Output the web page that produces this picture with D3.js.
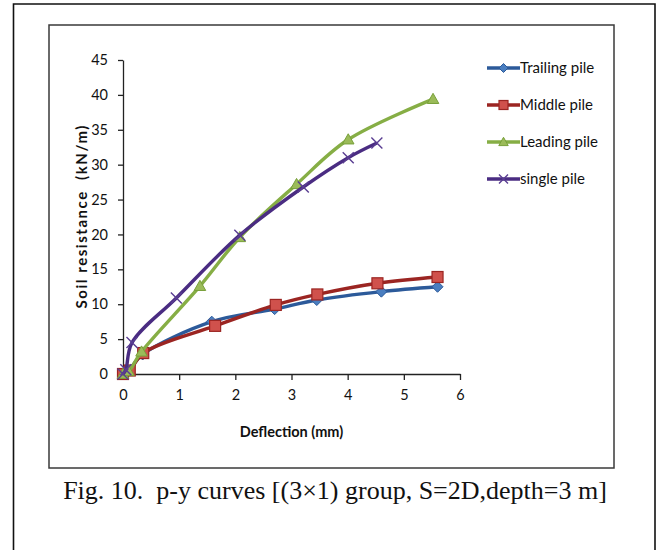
<!DOCTYPE html>
<html><head><meta charset="utf-8">
<script src="https://cdn.jsdelivr.net/npm/d3@7"></script>
<style>body{margin:0;background:#fff}svg{display:block}</style>
</head><body>
<svg id="c" width="662" height="550"></svg>
<script>
// ---- data ----
const seriesNames = ["Trailing pile", "Middle pile", "Leading pile", "single pile"];
const trailingX = [0, 0.10, 0.35, 1.58, 2.70, 3.45, 4.60, 5.60];
const trailingY = [0, 0.5, 2.8, 7.5, 9.3, 10.6, 11.8, 12.5];
const middleX = [0, 0.12, 0.36, 1.64, 2.72, 3.46, 4.53, 5.60];
const middleY = [0, 0.5, 3.0, 6.9, 9.9, 11.4, 13.0, 13.9];
const leadingX = [0, 0.10, 0.33, 1.37, 2.08, 3.09, 4.01, 5.52];
const leadingY = [0, 0.4, 3.2, 12.6, 19.6, 27.2, 33.6, 39.4];
const singleX = [0, 0.05, 0.16, 0.95, 2.08, 3.21, 4.01, 4.52];
const singleY = [0, 0.6, 4.5, 10.9, 19.9, 26.8, 31.0, 33.1];
const xTicks = [0, 1, 2, 3, 4, 5, 6];
const yTicks = [0, 5, 10, 15, 20, 25, 30, 35, 40, 45];
const xTitle = "Deflection (mm)";
const yTitle = "Soil resistance  (kN/m)";
const caption = "Fig. 10.  p-y curves [(3×1) group, S=2D,depth=3 m]";

const svg = d3.select("#c");
const x = d3.scaleLinear().domain([0, 6]).range([123, 460]);
const y = d3.scaleLinear().domain([0, 45]).range([374, 60]);

// outer frame
svg.append("path").attr("d", "M13.5,560 V4 H655 V560")
  .attr("fill", "none").attr("stroke", "#111").attr("stroke-width", 1.6);
// chart area box
svg.append("rect").attr("x", 49).attr("y", 25).attr("width", 565).attr("height", 443)
  .attr("fill", "#fff").attr("stroke", "#3a3a3a").attr("stroke-width", 1.5);

const tickFont = "Lato, 'Open Sans', sans-serif";

// axes
const gx = svg.append("g").attr("transform", `translate(0,${y(0)})`)
  .call(d3.axisBottom(x).tickValues(xTicks).tickFormat(d3.format("d")).tickSize(6).tickSizeOuter(0).tickPadding(10));
const gy = svg.append("g").attr("transform", `translate(${x(0)},0)`)
  .call(d3.axisLeft(y).tickValues(yTicks).tickFormat(d3.format("d")).tickSize(5).tickSizeOuter(0).tickPadding(10));
[gx, gy].forEach(g => {
  g.select(".domain").attr("stroke", "#222").attr("stroke-width", 1.3);
  g.selectAll(".tick line").attr("stroke", "#222").attr("stroke-width", 1.3);
  g.selectAll("text").attr("font-family", tickFont).attr("font-size", 14.5).attr("fill", "#111");
});

// titles
svg.append("text").attr("x", (x(0) + x(6)) / 2).attr("y", 437).attr("text-anchor", "middle")
  .attr("font-family", tickFont).attr("font-weight", "bold").attr("font-size", 14.5).attr("fill", "#111").text(xTitle);
svg.append("text").attr("transform", `translate(87,${(y(0) + y(45)) / 2}) rotate(-90)`).attr("text-anchor", "middle")
  .attr("font-family", tickFont).attr("font-weight", "bold").attr("font-size", 15).attr("fill", "#111")
  .style("white-space", "pre").attr("textLength", 183).attr("lengthAdjust", "spacing").text(yTitle);

// series
const series = [
  {name: seriesNames[0], xs: trailingX, ys: trailingY, line: "#2C5A9A", fill: "#4A7EC0", stroke: "#2C5A9A", shape: "diamond"},
  {name: seriesNames[1], xs: middleX, ys: middleY, line: "#9B2522", fill: "#D0514C", stroke: "#9B2522", shape: "square"},
  {name: seriesNames[2], xs: leadingX, ys: leadingY, line: "#86AE45", fill: "#9BBB59", stroke: "#78A03A", shape: "triangle"},
  {name: seriesNames[3], xs: singleX, ys: singleY, line: "#4A2C82", fill: "none", stroke: "#5A3E92", shape: "x"}
];

function marker(g, shape, s, fill, stroke) {
  if (shape === "diamond") {
    g.append("path").attr("d", `M0,${-s} L${s},0 L0,${s} L${-s},0Z`).attr("fill", fill).attr("stroke", stroke).attr("stroke-width", 1);
  } else if (shape === "square") {
    g.append("rect").attr("x", -s).attr("y", -s).attr("width", 2 * s).attr("height", 2 * s).attr("fill", fill).attr("stroke", stroke).attr("stroke-width", 1.2);
  } else if (shape === "triangle") {
    g.append("path").attr("d", `M0,${-s * 1.05} L${s * 1.05},${s * 0.8} L${-s * 1.05},${s * 0.8}Z`).attr("fill", fill).attr("stroke", stroke).attr("stroke-width", 1);
  } else {
    g.append("path").attr("d", `M${-s},${-s} L${s},${s} M${-s},${s} L${s},${-s}`).attr("stroke", stroke).attr("stroke-width", 1.4).attr("fill", "none");
  }
}

const line = d3.line().x(d => x(d[0])).y(d => y(d[1])).curve(d3.curveCatmullRom.alpha(0.5));
series.forEach(s => {
  const pts = s.xs.map((v, i) => [v, s.ys[i]]);
  svg.append("path").datum(pts).attr("d", line).attr("fill", "none")
    .attr("stroke", s.line).attr("stroke-width", 3.4).attr("stroke-linejoin", "round");
  pts.forEach(p => {
    const g = svg.append("g").attr("transform", `translate(${x(p[0])},${y(p[1])})`);
    marker(g, s.shape, 5.5, s.fill, s.stroke);
  });
});

// legend
series.forEach((s, i) => {
  const ly = 68 + i * 37;
  svg.append("line").attr("x1", 487).attr("x2", 520).attr("y1", ly).attr("y2", ly)
    .attr("stroke", s.line).attr("stroke-width", 3.4);
  const g = svg.append("g").attr("transform", `translate(503.5,${ly})`);
  marker(g, s.shape, 4.5, s.fill, s.stroke);
  svg.append("text").attr("x", 520).attr("y", ly + 5).attr("font-family", tickFont)
    .attr("font-size", 15).attr("fill", "#111").text(s.name);
});

// caption
const cap = svg.append("text").attr("x", 335).attr("y", 499).attr("text-anchor", "middle")
  .style("white-space", "pre")
  .attr("font-family", "'Liberation Serif', 'DejaVu Serif', serif").attr("font-size", 24).attr("fill", "#111").text(caption);
const w = cap.node().getComputedTextLength();
const target = 566;
cap.attr("font-size", Math.min(26, 24 * target / w));
</script>
</body></html>
